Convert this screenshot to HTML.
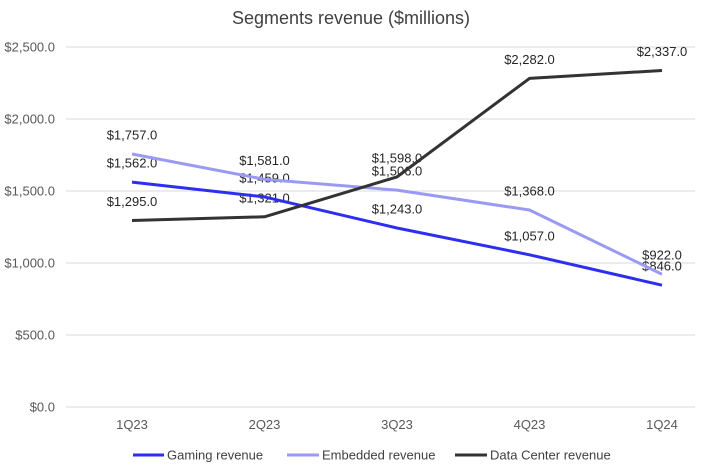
<!DOCTYPE html>
<html><head><meta charset="utf-8"><style>
body{margin:0;background:#fff;}
svg text{font-family:"Liberation Sans",sans-serif;}
</style></head><body>
<svg id="chart" width="702" height="468">
<text x="351" y="24" text-anchor="middle" font-size="18" fill="#404040">Segments revenue ($millions)</text>
<g id="grid"></g><g id="labels"></g><g id="lines"></g>
<g>
<line x1="133" y1="455" x2="164" y2="455" stroke="#2e2ef2" stroke-width="3"/>
<text x="167" y="459.5" font-size="13" fill="#404040">Gaming revenue</text>
<line x1="287" y1="455" x2="319" y2="455" stroke="#9a9af5" stroke-width="3"/>
<text x="322" y="459.5" font-size="13" fill="#404040">Embedded revenue</text>
<line x1="455" y1="455" x2="487" y2="455" stroke="#333333" stroke-width="3"/>
<text x="490" y="459.5" font-size="13" fill="#404040">Data Center revenue</text>
</g>
</svg>
<script>
const categories=["1Q23","2Q23","3Q23","4Q23","1Q24"];
const gaming=[1562,1459,1243,1057,846];
const embedded=[1757,1581,1506,1368,922];
const dataCenter=[1295,1321,1598,2282,2337];
const yTicks=[0,500,1000,1500,2000,2500];
const ns="http://www.w3.org/2000/svg";
const x=i=>132+132.5*i;
const y=v=>407-v*0.144;
const fmt=v=>"$"+v.toLocaleString("en-US",{minimumFractionDigits:1,maximumFractionDigits:1});
function mk(tag,attrs,parent){const e=document.createElementNS(ns,tag);for(const k in attrs)e.setAttribute(k,attrs[k]);document.getElementById(parent).appendChild(e);return e;}
yTicks.forEach(t=>{
 const l=mk("line",{x1:66,x2:695,y1:y(t),y2:y(t),stroke:"#d9d9d9","stroke-width":1},"grid");
 
 
 const tx=mk("text",{x:55,y:y(t)+4.5,"text-anchor":"end","font-size":13,fill:"#595959"},"grid");
 tx.textContent=fmt(t);
 
 
});
categories.forEach((c,i)=>{
 const tx=mk("text",{x:x(i),y:429,"text-anchor":"middle","font-size":13,fill:"#595959"},"grid");
 tx.textContent=c;
 
 
});
[[gaming,"#2e2ef2","gaming"],[embedded,"#9a9af5","embedded"],[dataCenter,"#333333","data-center"]].forEach(([d,col,n])=>{
 const p=mk("polyline",{points:d.map((v,i)=>x(i)+","+y(v)).join(" "),fill:"none",stroke:col,"stroke-width":3,"stroke-linejoin":"round"},"lines");
 
 
 d.forEach((v,i)=>{
  const tx=mk("text",{x:x(i),y:y(v)-14.5,"text-anchor":"middle","font-size":13,fill:"#262626"},"labels");
  tx.textContent=fmt(v);
  
  
 });
});
</script>
</body></html>
